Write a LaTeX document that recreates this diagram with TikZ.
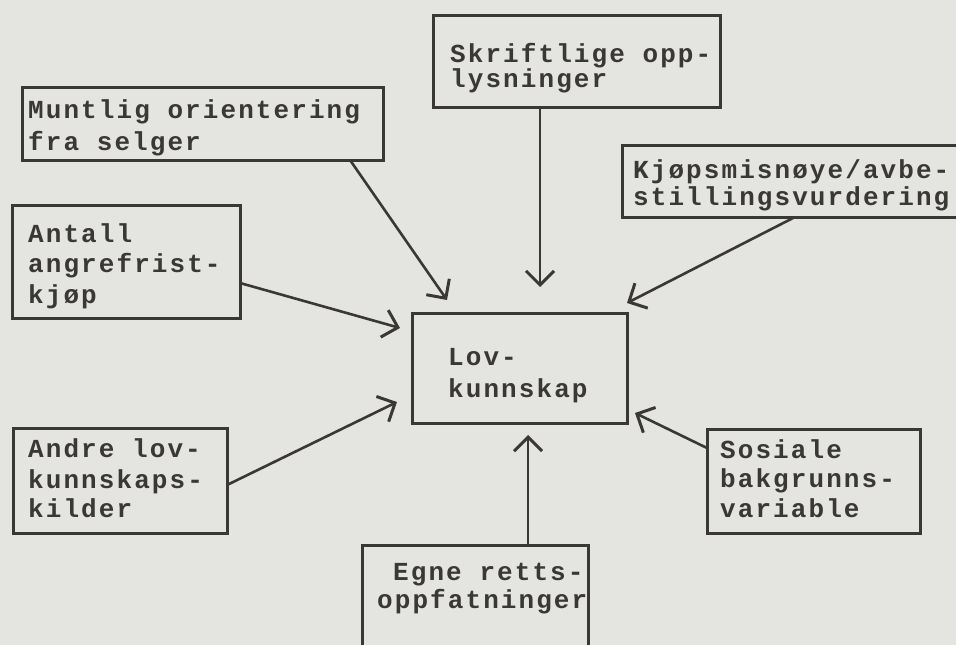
\documentclass[tikz,border=0pt]{standalone}
\usepackage{fontspec}
\setmonofont[LetterSpace=8]{Liberation Mono}
\usetikzlibrary{arrows.meta,calc}
\definecolor{paper}{RGB}{228,228,224}
\definecolor{ink}{RGB}{58,56,54}
\begin{document}
\begin{tikzpicture}[x=1pt,y=-1pt,
  box/.style={draw=ink, line width=3pt, rectangle, inner sep=0pt, outer sep=0pt},
  txt/.style={anchor=base west, inner sep=0pt, text=ink,
    font=\ttfamily\bfseries\fontsize{26}{30}\selectfont},
  link/.style={draw=ink, line width=2.6pt,
    -{Straight Barb[length=14pt,width=28pt,line width=3pt]}}]
% page and background
\useasboundingbox (0,0) rectangle (956,645);
\fill[paper] (0,0) rectangle (956,645);

% boxes
\node[box, minimum width=287pt, minimum height=92pt]  (skr) at (576.5,61)  {};
\node[box, minimum width=361pt, minimum height=73pt]  (mun) at (202.5,123.5) {};
\node[box, minimum width=344pt, minimum height=72pt]  (kjo) at (794,181)   {};
\node[box, minimum width=228pt, minimum height=113pt] (ant) at (126,261.5) {};
\node[box, minimum width=215pt, minimum height=110pt] (lov) at (519.5,368) {};
\node[box, minimum width=214pt, minimum height=105pt] (and) at (120,480.5) {};
\node[box, minimum width=213pt, minimum height=104pt] (sos) at (813.5,481) {};
\node[box, minimum width=226pt, minimum height=135pt] (egn) at (475,612.5) {};

% box texts
\node[txt] (skr1) at (450,62)  {Skriftlige opp-};
\node[txt] (skr2) at (450,87)  {lysninger};
\node[txt] (mun1) at (28,118)  {Muntlig orientering};
\node[txt] (mun2) at (28,150)  {fra selger};
\node[txt] (kjo1) at (633,178) {Kjøpsmisnøye/avbe-};
\node[txt] (kjo2) at (633,205) {stillingsvurdering};
\node[txt] (ant1) at (28,242)  {Antall};
\node[txt] (ant2) at (28,272)  {angrefrist-};
\node[txt] (ant3) at (28,303)  {kjøp};
\node[txt] (lov1) at (448,365) {Lov-};
\node[txt] (lov2) at (448,397) {kunnskap};
\node[txt] (and1) at (28,457)  {Andre lov-};
\node[txt] (and2) at (28,488)  {kunnskaps-};
\node[txt] (and3) at (28,517)  {kilder};
\node[txt] (sos1) at (720,458) {Sosiale};
\node[txt] (sos2) at (720,487) {bakgrunns-};
\node[txt] (sos3) at (720,517) {variable};
\node[txt] (egn1) at (393,580) {Egne retts-};
\node[txt] (egn2) at (377,608) {oppfatninger};

% arrow tips, short of the central box
\coordinate (tskr) at (540,287);
\coordinate (tmun) at (447,300);
\coordinate (tkjo) at (627,303);
\coordinate (tant) at (400,328);
\coordinate (tand) at (397,402);
\coordinate (tsos) at (635,413);
\coordinate (tegn) at (528,435);

% connectors
\draw[link] ($(skr.south west)+(107,0)$) -- (tskr);
\draw[link] ($(mun.south west)+(328,0)$) -- (tmun);
\draw[link] ($(kjo.south west)+(173,0)$) -- (tkjo);
\draw[link] ($(ant.north east)+(0,78)$)  -- (tant);
\draw[link] ($(and.north east)+(0,57)$)  -- (tand);
\draw[link] ($(sos.north west)+(0,19)$)  -- (tsos);
\draw[link] ($(egn.north west)+(166,0)$) -- (tegn);
\end{tikzpicture}
\end{document}
